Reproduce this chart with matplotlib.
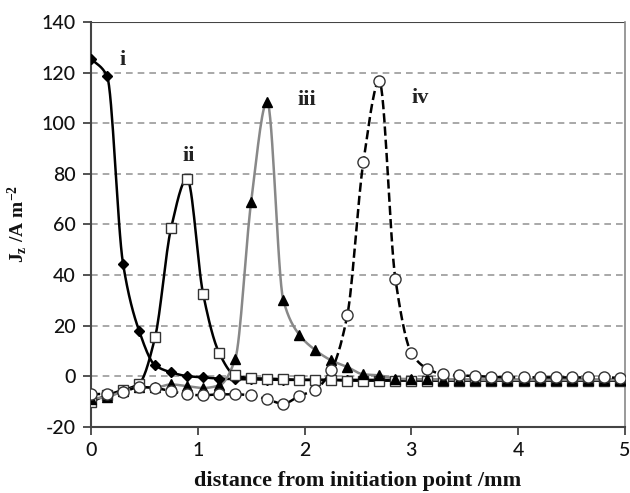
import numpy as np
import matplotlib
matplotlib.use("Agg")
import matplotlib.pyplot as plt

plt.rcParams["mathtext.fontset"] = "custom"
plt.rcParams["mathtext.rm"] = "Liberation Serif:bold"
plt.rcParams["mathtext.bf"] = "Liberation Serif:bold"
plt.rcParams["mathtext.it"] = "Liberation Serif:bold"
plt.rcParams["axes.unicode_minus"] = False

step = 0.15
n = 34
x = [round(i * step, 2) for i in range(n)]

s_i = [125.5, 118.7, 44.5, 18, 4.3, 1.5, 0, -0.5, -1, -1.2, -1.3, -1.4, -1.5, -1.5, -1.5, -1.5, -1.5,
       -1.5, -1.5, -1.5, -1.5, -1.5, -1.5, -1.5, -1.5, -1.5, -1.5, -1.5, -1.5, -1.5, -1.5, -1.5, -1.5, -1.5]
s_ii = [-10.3, -7.5, -5.5, -3, 15.3, 58.5, 78, 32.5, 9.2, 0.3, -0.8, -1, -1.2, -1.5, -1.5, -1.5, -1.8,
        -1.8, -1.8, -1.8, -1.8, -1.8, -1.8, -1.8, -1.8, -1.8, -1.8, -1.8, -1.8, -1.8, -1.8, -1.8, -1.8, -1.8]
s_iii = [-9, -8.3, -6, -4.5, -4.5, -3.3, -4, -4.7, -3.7, 6.6, 69, 108.5, 30.2, 16.4, 10.3, 6.2, 3.6,
         0.7, 0.3, -1, -1.2, -1.3, -1.4, -1.5, -1.5, -1.5, -1.5, -1.5, -1.5, -1.5, -1.5, -1.5, -1.5, -1.5]
s_iv = [-7.2, -7, -6.3, -4.3, -4.7, -6, -7.2, -7.6, -7.2, -7.2, -7.6, -9.2, -10.9, -7.9, -5.3, 2.3, 24,
        84.5, 116.6, 38.5, 9.2, 2.9, 0.7, 0.3, 0, -0.3, -0.5, -0.5, -0.5, -0.5, -0.5, -0.5, -0.5, -0.7]

labels = ["i", "ii", "iii", "iv"]
label_pos = [(0.27, 125), (0.86, 87), (1.93, 109), (3.0, 110)]


def smooth(xs, ys, k=16):
    # monotone cubic (Fritsch-Carlson) interpolation through the points
    xs = np.asarray(xs, float)
    ys = np.asarray(ys, float)
    h = np.diff(xs)
    d = np.diff(ys) / h
    m = np.zeros_like(ys)
    m[0], m[-1] = d[0], d[-1]
    for i in range(1, len(ys) - 1):
        if d[i - 1] * d[i] <= 0:
            m[i] = 0
        else:
            w1 = 2 * h[i] + h[i - 1]
            w2 = h[i] + 2 * h[i - 1]
            m[i] = (w1 + w2) / (w1 / d[i - 1] + w2 / d[i])
    ox, oy = [], []
    t = np.linspace(0, 1, k, endpoint=False)
    for i in range(len(xs) - 1):
        h00 = 2 * t ** 3 - 3 * t ** 2 + 1
        h10 = t ** 3 - 2 * t ** 2 + t
        h01 = -2 * t ** 3 + 3 * t ** 2
        h11 = t ** 3 - t ** 2
        ox.append(xs[i] + t * h[i])
        oy.append(h00 * ys[i] + h10 * h[i] * m[i] + h01 * ys[i + 1] + h11 * h[i] * m[i + 1])
    ox.append([xs[-1]])
    oy.append([ys[-1]])
    return np.concatenate(ox), np.concatenate(oy)


fig = plt.figure(figsize=(6.3, 4.93), dpi=100)
ax = fig.add_axes([0.1444, 0.1345, 0.8476, 0.821])

ax.set_xlim(0, 5)
ax.set_ylim(-20, 140)
ax.set_yticks(range(-20, 141, 20))
ax.set_xticks(range(0, 6))
for yv in range(0, 141, 20):
    ax.axhline(yv, color="#9a9a9a", lw=1.2, ls=(0, (4, 3)), zorder=0)
ax.axhline(140, color="#444444", lw=1.5, zorder=0)

series = [
    (s_i, "black", "-", "D", "black", 5),
    (s_ii, "black", "-", "s", "white", 7),
    (s_iii, "#888888", "-", "^", "black", 7),
    (s_iv, "black", "--", "o", "white", 8),
]
for ys, col, ls, mk, fc, ms in series:
    sx, sy = smooth(x, ys)
    ax.plot(sx, sy, color=col, ls=ls, lw=1.8, zorder=2)
    ax.plot(x, ys, ls="none", marker=mk, ms=ms, mfc=fc, mec="black" if fc == "black" else "#333333",
            mew=1.0, zorder=3)

for lab, (lx, ly) in zip(labels, label_pos):
    ax.text(lx, ly, lab, fontsize=16, fontweight="bold", family="Liberation Serif",
            ha="left", va="center", color="#222222")

for sp in ["left", "bottom"]:
    ax.spines[sp].set_color("#444444")
    ax.spines[sp].set_linewidth(1.5)
ax.spines["right"].set_color("#888888")
ax.spines["right"].set_linewidth(1.2)
ax.spines["top"].set_visible(False)
ax.tick_params(direction="out", length=6, width=1.3, color="#444444",
               labelsize=14, labelcolor="#111111", pad=5)
for t in ax.get_xticklabels() + ax.get_yticklabels():
    t.set_family("Lato")
    t.set_fontweight("medium")

ax.set_xlabel("distance from initiation point /mm", fontsize=16, fontweight="bold",
              family="Liberation Serif", labelpad=9, color="#111111")
ax.set_ylabel(r"$\mathbf{J_z}$ /A m$^{\mathbf{-2}}$", fontsize=14, fontweight="bold",
              family="Liberation Serif", labelpad=9, color="#111111")

fig.savefig("out.png", dpi=100)
